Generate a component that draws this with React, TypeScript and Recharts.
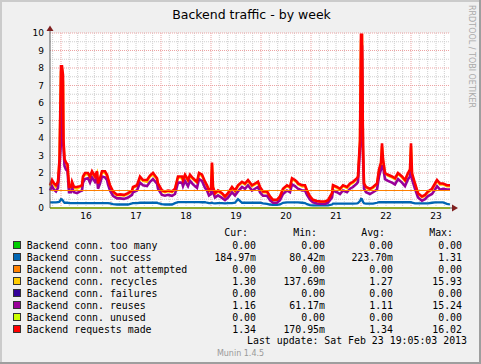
import React from 'react';
import { LineChart, Line, XAxis, YAxis, ReferenceLine, ReferenceDot, ReferenceArea } from 'recharts';

// hours relative to Feb 16 00:00
const times = [
  -5.28, -4.32, -3.36, -2.4, -1.44, -0.72, 0, 0.48, 0.96, 1.2,
  1.68, 2.4, 3.12, 3.84, 4.8, 5.28, 6.24, 7.68, 9.12, 10.08,
  10.56, 11.52, 12.96, 13.92, 14.88, 16.32, 17.28, 17.76, 18.72, 19.68,
  21.12, 22.08, 22.56, 23.52, 24.96, 26.88, 28.32, 30.24, 32.16, 34.08,
  34.56, 36.48, 37.92, 39.36, 41.28, 42.72, 44.16, 46.08, 46.56, 48.48,
  49.92, 51.36, 53.28, 54.72, 56.16, 58.08, 58.56, 59.52, 60.96, 61.92,
  63.36, 65.28, 66.24, 67.68, 69.12, 70.08, 71.04, 72, 72.48, 72.96,
  73.92, 75.36, 77.28, 78.72, 80.16, 82.08, 83.52, 84.96, 86.88, 88.32,
  89.76, 91.68, 93.12, 94.56, 95.52, 96.96, 98.88, 100.32, 101.76, 103.68,
  105.12, 106.56, 108.48, 109.92, 110.88, 112.32, 113.28, 113.76, 115.68, 117.12,
  118.08, 119.52, 120.96, 122.88, 124.32, 126.72, 128.16, 130.08, 130.56, 132.48,
  133.92, 135.36, 137.28, 138.72, 140.16, 142.08, 142.56, 143.52, 144, 144.48,
  144.96, 145.44, 146.4, 148.32, 149.76, 151.68, 152.64, 153.6, 154.08, 154.56,
  155.52, 156.96, 158.88, 160.32, 161.76, 163.68, 165.12, 166.56, 167.52, 168,
  168.48, 169.92, 171.36, 173.28, 174.72, 176.16, 178.08, 179.52, 180.48, 181.92,
  183.36, 185.28, 186.72,
];

const requestsMade = [
  1.3, 1.6, 1.4, 1.3, 1.5, 2.8, 8.1, 8.1, 7.6, 3.9,
  2.8, 2.6, 2.5, 1.2, 1.2, 1.5, 1.2, 1.2, 1.25, 1.3,
  1.8, 2.0, 2.0, 1.8, 2.1, 1.8, 2.1, 1.4, 1.7, 2.1,
  2.1, 1.9, 1.7, 1.3, 0.95, 0.76, 0.78, 0.75, 0.85, 1.0,
  1.2, 1.3, 1.8, 1.6, 1.6, 1.85, 2.0, 1.7, 1.4, 1.0,
  0.95, 1.0, 0.95, 1.1, 1.8, 1.8, 1.6, 1.9, 1.6, 1.9,
  1.7, 1.5, 2.0, 1.9, 1.5, 1.3, 1.0, 1.1, 2.6, 1.2,
  0.85, 1.0, 0.85, 0.66, 0.85, 1.2, 1.0, 1.3, 1.5, 1.4,
  1.6, 1.3, 1.4, 1.5, 1.2, 0.95, 0.95, 0.66, 0.47, 0.47,
  0.66, 1.1, 1.3, 1.2, 1.7, 1.6, 1.5, 1.4, 1.3, 1.3,
  1.0, 0.66, 0.47, 0.4, 0.38, 0.37, 0.45, 0.85, 1.3, 1.2,
  1.1, 1.3, 1.2, 1.4, 1.5, 1.7, 1.8, 3.9, 9.9, 9.9,
  3.5, 1.4, 1.2, 1.1, 1.2, 1.4, 2.2, 2.6, 3.7, 2.8,
  2.0, 1.9, 1.8, 1.7, 2.0, 1.8, 1.6, 2.0, 2.2, 3.7,
  2.0, 1.4, 0.85, 0.66, 0.75, 0.95, 1.1, 1.4, 1.6, 1.4,
  1.4, 1.3, 1.3,
];

const recycles = [
  1.25, 1.5, 1.35, 1.2, 1.45, 2.7, 7.8, 7.9, 7.2, 3.8,
  2.7, 2.5, 2.4, 1.15, 1.15, 1.4, 1.15, 1.1, 1.2, 1.25,
  1.75, 1.9, 1.95, 1.7, 2.0, 1.75, 2.0, 1.35, 1.65, 2.05,
  2.0, 1.85, 1.6, 1.25, 0.9, 0.72, 0.74, 0.7, 0.8, 0.95,
  1.15, 1.25, 1.7, 1.55, 1.5, 1.8, 1.9, 1.65, 1.35, 0.95,
  0.9, 0.95, 0.9, 1.05, 1.75, 1.7, 1.55, 1.85, 1.55, 1.8,
  1.65, 1.45, 1.9, 1.85, 1.45, 1.25, 0.95, 1.05, 2.5, 1.15,
  0.8, 0.95, 0.8, 0.62, 0.8, 1.15, 0.95, 1.25, 1.45, 1.35,
  1.55, 1.25, 1.35, 1.45, 1.15, 0.9, 0.9, 0.62, 0.44, 0.44,
  0.62, 1.05, 1.25, 1.15, 1.65, 1.55, 1.45, 1.35, 1.25, 1.25,
  0.95, 0.62, 0.44, 0.38, 0.36, 0.35, 0.42, 0.8, 1.25, 1.15,
  1.05, 1.25, 1.15, 1.35, 1.45, 1.65, 1.75, 3.8, 9.6, 9.7,
  3.4, 1.35, 1.15, 1.05, 1.15, 1.35, 2.1, 2.5, 3.5, 2.7,
  1.95, 1.85, 1.75, 1.65, 1.95, 1.75, 1.55, 1.95, 2.1, 3.5,
  1.9, 1.35, 0.8, 0.62, 0.7, 0.9, 1.05, 1.35, 1.55, 1.35,
  1.35, 1.25, 1.25,
];

const reuses = [
  1.0, 1.25, 1.05, 0.95, 1.15, 2.3, 3.8, 7.4, 3.7, 3.5,
  2.4, 2.2, 2.1, 0.9, 0.9, 1.15, 0.9, 0.85, 0.95, 1.0,
  1.45, 1.65, 1.7, 1.45, 1.75, 1.5, 1.75, 1.1, 1.4, 1.8,
  1.75, 1.6, 1.35, 1.0, 0.7, 0.55, 0.55, 0.52, 0.6, 0.75,
  0.9, 1.0, 1.45, 1.3, 1.25, 1.5, 1.65, 1.4, 1.1, 0.75,
  0.7, 0.75, 0.7, 0.8, 1.45, 1.45, 1.25, 1.55, 1.25, 1.55,
  1.35, 1.15, 1.65, 1.55, 1.15, 1.0, 0.72, 0.8, 1.3, 0.9,
  0.6, 0.72, 0.58, 0.45, 0.6, 0.9, 0.72, 0.95, 1.2, 1.1,
  1.3, 1.0, 1.1, 1.2, 0.9, 0.7, 0.7, 0.45, 0.3, 0.3,
  0.45, 0.8, 1.0, 0.9, 1.35, 1.25, 1.15, 1.1, 1.0, 1.0,
  0.75, 0.48, 0.32, 0.26, 0.24, 0.23, 0.3, 0.6, 1.0, 0.9,
  0.8, 1.0, 0.9, 1.1, 1.2, 1.4, 1.5, 3.4, 3.8, 9.3,
  3.0, 1.1, 0.9, 0.8, 0.9, 1.05, 1.8, 2.2, 2.4, 2.4,
  1.65, 1.55, 1.45, 1.35, 1.65, 1.45, 1.25, 1.65, 1.8, 2.2,
  1.65, 1.1, 0.6, 0.42, 0.5, 0.68, 0.8, 1.05, 1.25, 1.05,
  1.1, 1.05, 1.05,
];

const success = [
  0.32, 0.32, 0.32, 0.32, 0.33, 0.36, 0.5, 0.48, 0.42, 0.36,
  0.3, 0.3, 0.3, 0.28, 0.28, 0.28, 0.28, 0.28, 0.28, 0.28,
  0.28, 0.28, 0.28, 0.28, 0.28, 0.28, 0.28, 0.28, 0.28, 0.28,
  0.28, 0.28, 0.28, 0.26, 0.22, 0.2, 0.2, 0.2, 0.2, 0.26,
  0.28, 0.28, 0.3, 0.3, 0.3, 0.3, 0.3, 0.3, 0.28, 0.22,
  0.2, 0.2, 0.2, 0.28, 0.33, 0.34, 0.34, 0.34, 0.34, 0.34,
  0.34, 0.34, 0.34, 0.33, 0.33, 0.3, 0.28, 0.28, 0.3, 0.28,
  0.26, 0.28, 0.28, 0.27, 0.28, 0.28, 0.3, 0.5, 0.3, 0.3,
  0.3, 0.3, 0.3, 0.3, 0.3, 0.26, 0.24, 0.2, 0.18, 0.18,
  0.2, 0.3, 0.32, 0.32, 0.32, 0.32, 0.32, 0.32, 0.3, 0.28,
  0.22, 0.16, 0.15, 0.15, 0.15, 0.15, 0.15, 0.2, 0.25, 0.25,
  0.25, 0.25, 0.25, 0.25, 0.25, 0.26, 0.28, 0.4, 0.52, 0.5,
  0.35, 0.27, 0.25, 0.25, 0.25, 0.3, 0.33, 0.33, 0.33, 0.33,
  0.33, 0.33, 0.33, 0.33, 0.33, 0.33, 0.33, 0.33, 0.33, 0.33,
  0.3, 0.27, 0.27, 0.27, 0.27, 0.27, 0.3, 0.32, 0.32, 0.32,
  0.32, 0.24, 0.2,
];

const edgeTimes = [-5.28, 186.72];
const tooMany = [0, 0];
const notAttempted = [0, 0];
const failures = [0, 0];
const unused = [0, 0];
const warningLevel = 1;

const dayTicks = [12, 36, 60, 84, 108, 132, 156, 180];
const dayLabels = ['16', '17', '18', '19', '20', '21', '22', '23'];
const midnightLines = [0, 24, 48, 72, 96, 120, 144, 168];
const minorVLines = [
  -4, 4, 8, 12, 16, 20, 28, 32, 36, 40, 44, 52, 56, 60, 64, 68, 76, 80, 84, 88, 92,
  100, 104, 108, 112, 116, 124, 128, 132, 136, 140, 148, 152, 156, 160, 164, 172, 176, 180, 184,
];
const yTicks = [0, 1, 2, 3, 4, 5, 6, 7, 8, 9, 10];
const majorHLines = [1, 2, 3, 4, 5, 6, 7, 8, 9, 10];
const minorHLines = [0.5, 1.5, 2.5, 3.5, 4.5, 5.5, 6.5, 7.5, 8.5, 9.5];

const legendLabels = [
  'Backend conn. too many',
  'Backend conn. success',
  'Backend conn. not attempted',
  'Backend conn. recycles',
  'Backend conn. failures',
  'Backend conn. reuses',
  'Backend conn. unused',
  'Backend requests made',
];
const legendColors = ['#00CC00', '#0066B3', '#FF8000', '#FFCC00', '#330099', '#990099', '#CCFF00', '#FF0000'];
const curValues = ['0.00', '184.97m', '0.00', '1.30', '0.00', '1.16', '0.00', '1.34'];
const minValues = ['0.00', '80.42m', '0.00', '137.69m', '0.00', '61.17m', '0.00', '170.95m'];
const avgValues = ['0.00', '223.70m', '0.00', '1.27', '0.00', '1.11', '0.00', '1.34'];
const maxValues = ['0.00', '1.31', '0.00', '15.93', '0.00', '15.24', '0.00', '16.02'];

const mk = (ts: number[], ys: number[]) => ts.map((t, i) => ({ t, v: ys[i] }));

const X_MIN = edgeTimes[0];
const X_MAX = edgeTimes[1];

const MINOR = '#cfcfcf';
const MAJOR = '#eda3a3';
const AXIS = '#5a5a5a';
const ARROW = '#7F1F1F';

const YArrow = (p: any) => {
  const { cx, cy } = p;
  return (
    <g>
      <line x1={cx} y1={cy} x2={cx} y2={cy - 3} stroke={AXIS} strokeWidth={1} />
      <path d={`M${cx - 3.5},${cy - 2} L${cx + 3.5},${cy - 2} L${cx},${cy - 7.5} Z`} fill={ARROW} />
    </g>
  );
};
const XArrow = (p: any) => {
  const { cx, cy } = p;
  return (
    <g>
      <line x1={cx} y1={cy} x2={cx + 3} y2={cy} stroke={AXIS} strokeWidth={1} />
      <path d={`M${cx + 2},${cy - 3.5} L${cx + 2},${cy + 3.5} L${cx + 8},${cy} Z`} fill={ARROW} />
    </g>
  );
};

const lines = [
  { key: 'tooMany', data: mk(edgeTimes, tooMany), color: legendColors[0], w: 2 },
  { key: 'success', data: mk(times, success), color: legendColors[1], w: 2.3 },
  { key: 'notAttempted', data: mk(edgeTimes, notAttempted), color: legendColors[2], w: 2 },
  { key: 'recycles', data: mk(times, recycles), color: legendColors[3], w: 2.5 },
  { key: 'failures', data: mk(edgeTimes, failures), color: legendColors[4], w: 2 },
  { key: 'reuses', data: mk(times, reuses), color: legendColors[5], w: 2.6 },
  { key: 'unused', data: mk(edgeTimes, unused), color: legendColors[6], w: 2 },
  { key: 'requests', data: mk(times, requestsMade), color: legendColors[7], w: 2.6 },
];

export default function App() {
  const rowY = (i: number) => 245 + i * 12;
  return (
    <div style={{ position: 'absolute', left: 0, top: 0, width: 481, height: 364, background: '#F0F0F0', overflow: 'hidden' }}>
      <div style={{ position: 'absolute', left: 0, top: 0 }}>
        <LineChart width={481} height={364} margin={{ top: 33, right: 31, bottom: 136, left: 0 }}>
          <ReferenceArea x1={X_MIN} x2={X_MAX} y1={0} y2={10} fill="#FFFFFF" fillOpacity={1} stroke="none" ifOverflow="visible" />
          {minorVLines.map((v) => (
            <ReferenceLine key={'mv' + v} x={v} stroke={MINOR} strokeDasharray="1 1" strokeWidth={1} />
          ))}
          {minorHLines.map((v) => (
            <ReferenceLine key={'mh' + v} y={v} stroke={MINOR} strokeDasharray="1 1" strokeWidth={1} />
          ))}
          {midnightLines.map((v) => (
            <ReferenceLine key={'Mv' + v} x={v} stroke={MAJOR} strokeDasharray="1 1" strokeWidth={1} />
          ))}
          {majorHLines.map((v) => (
            <ReferenceLine key={'Mh' + v} y={v} stroke={MAJOR} strokeDasharray="1 1" strokeWidth={1} />
          ))}
          <XAxis
            type="number"
            dataKey="t"
            domain={[X_MIN, X_MAX]}
            ticks={dayTicks}
            tickFormatter={(v: number) => dayLabels[dayTicks.indexOf(v)]}
            height={20}
            tickLine={false}
            tickSize={0}
            tickMargin={5}
            axisLine={{ stroke: AXIS, strokeWidth: 1 }}
            tick={{ fontSize: 9, fill: '#000', fontFamily: 'DejaVu Sans' }}
            interval={0}
          />
          <YAxis
            type="number"
            domain={[0, 10]}
            ticks={yTicks}
            width={50}
            tickLine={false}
            tickSize={0}
            tickMargin={6}
            axisLine={{ stroke: AXIS, strokeWidth: 1 }}
            tick={{ fontSize: 9, fill: '#000', fontFamily: 'DejaVu Sans' }}
            interval={0}
          />
          {lines.map((l) => (
            <Line
              key={l.key}
              data={l.data}
              dataKey="v"
              type="linear"
              stroke={l.color}
              strokeWidth={l.w}
              dot={false}
              activeDot={false}
              isAnimationActive={false}
            />
          ))}
          <ReferenceLine y={warningLevel} stroke="#FF8000" strokeWidth={1} />
          <ReferenceDot x={X_MIN} y={10} ifOverflow="visible" shape={YArrow} />
          <ReferenceDot x={X_MAX} y={0} ifOverflow="visible" shape={XArrow} />
        </LineChart>
      </div>
      <svg width={481} height={364} style={{ position: 'absolute', left: 0, top: 0, pointerEvents: 'none' }}>
        <rect x={0} y={0} width={481} height={2} fill="#CBCBCB" />
        <rect x={0} y={0} width={2} height={364} fill="#CBCBCB" />
        <rect x={479} y={0} width={2} height={364} fill="#9E9E9E" />
        <rect x={0} y={362} width={481} height={2} fill="#9E9E9E" />
        <text x={251.5} y={18.5} textAnchor="middle" fontFamily="DejaVu Sans" fontSize={12.5} fill="#000">
          Backend traffic - by week
        </text>
        <text
          x={469}
          y={5}
          transform="rotate(90 469 5)"
          fontFamily="DejaVu Sans"
          fontSize={8}
          fill="#AAAAAA"
        >
          RRDTOOL / TOBI OETIKER
        </text>
        <g fontFamily="DejaVu Sans Mono" fontSize={9.9} fill="#000" style={{ whiteSpace: 'pre' }}>
          <text x={248} y={235.5} textAnchor="end">Cur:</text>
          <text x={317} y={235.5} textAnchor="end">Min:</text>
          <text x={385} y={235.5} textAnchor="end">Avg:</text>
          <text x={453} y={235.5} textAnchor="end">Max:</text>
          {legendLabels.map((lab, i) => (
            <g key={lab}>
              <rect x={13.5} y={rowY(i) - 3.5} width={7} height={7} fill={legendColors[i]} stroke="#333" strokeWidth={1} />
              <text x={26.7} y={rowY(i) + 3.5}>{lab}</text>
              <text x={256} y={rowY(i) + 3.5} textAnchor="end">{curValues[i]}</text>
              <text x={325} y={rowY(i) + 3.5} textAnchor="end">{minValues[i]}</text>
              <text x={393} y={rowY(i) + 3.5} textAnchor="end">{avgValues[i]}</text>
              <text x={462} y={rowY(i) + 3.5} textAnchor="end">{maxValues[i]}</text>
            </g>
          ))}
          <text x={467} y={344} textAnchor="end">Last update: Sat Feb 23 19:05:03 2013</text>
        </g>
        <text x={240.5} y={355.5} textAnchor="middle" fontFamily="DejaVu Sans" fontSize={8} fill="#999999">
          Munin 1.4.5
        </text>
      </svg>
    </div>
  );
}
